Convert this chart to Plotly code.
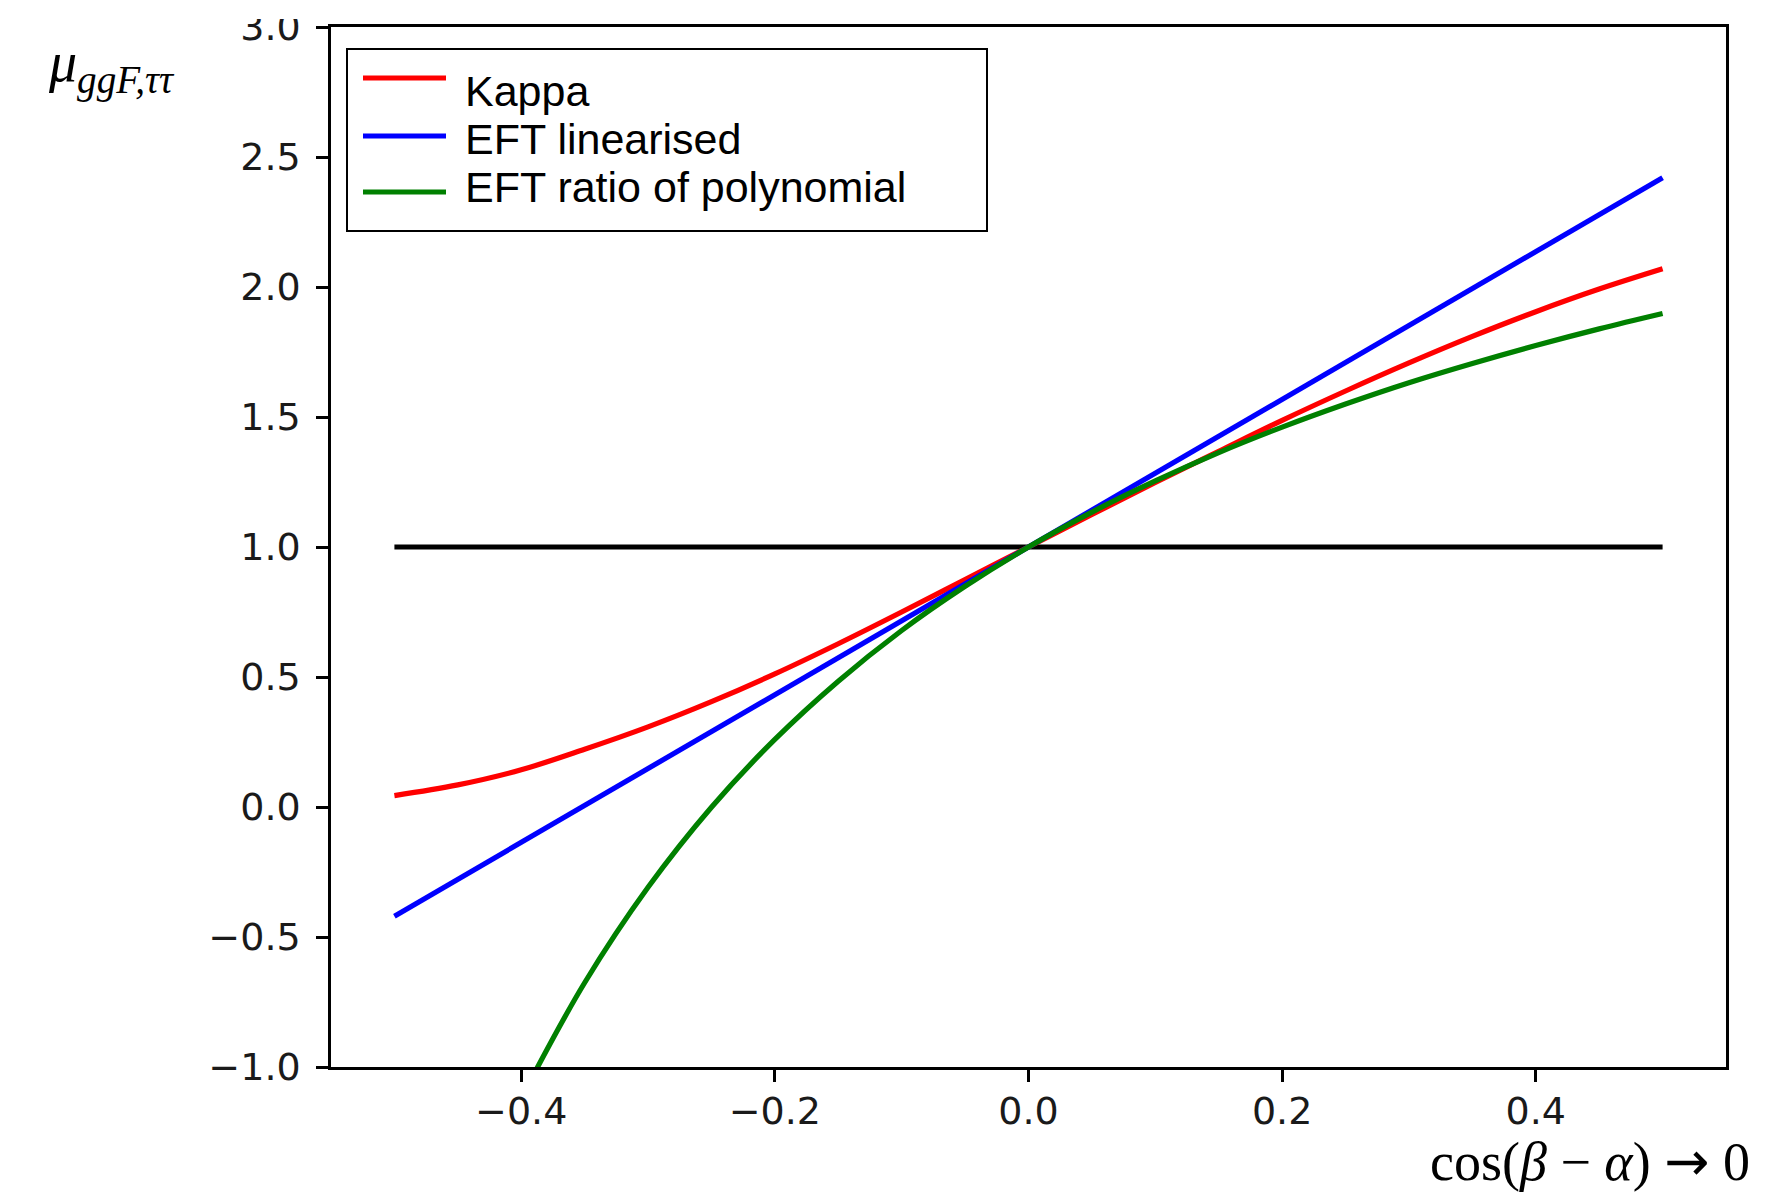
import plotly.graph_objects as go

# cos(beta - alpha) sampling points and signal strengths for each model
x_grid = [-0.50, -0.45, -0.40, -0.35, -0.30, -0.25, -0.20, -0.15, -0.10, -0.05,
          0.00, 0.05, 0.10, 0.15, 0.20, 0.25, 0.30, 0.35, 0.40, 0.45, 0.50]

mu_kappa = [0.044, 0.085, 0.143, 0.222, 0.308, 0.405, 0.512, 0.628, 0.750, 0.875,
            1.000, 1.125, 1.248, 1.368, 1.487, 1.600, 1.708, 1.810, 1.905, 1.992, 2.070]

x_lin = [-0.50, 0.00, 0.50]
mu_eft_lin = [-0.42, 1.00, 2.42]

x_ratio = [-0.40, -0.39, -0.35, -0.30, -0.25, -0.20, -0.15, -0.10, -0.05,
           0.00, 0.05, 0.10, 0.15, 0.20, 0.25, 0.30, 0.35, 0.40, 0.45, 0.50]
mu_eft_ratio = [-1.123, -1.027, -0.676, -0.309, -0.001, 0.260, 0.484, 0.679, 0.849,
                1.000, 1.134, 1.254, 1.363, 1.461, 1.550, 1.632, 1.706, 1.775, 1.839, 1.898]

x_sm = [-0.50, 0.50]
mu_sm = [1.0, 1.0]

series_names = ["Kappa", "EFT linearised", "EFT ratio of polynomial"]
series_colors = ["#ff0000", "#0000ff", "#008000"]

x_ticks = [-0.4, -0.2, 0.0, 0.2, 0.4]
x_ticktext = ["\u22120.4", "\u22120.2", "0.0", "0.2", "0.4"]
y_ticks = [-1.0, -0.5, 0.0, 0.5, 1.0, 1.5, 2.0, 2.5, 3.0]
y_ticktext = ["\u22121.0", "\u22120.5", "0.0", "0.5", "1.0", "1.5", "2.0", "2.5", "3.0"]

# canvas and plot-area geometry (pixels)
W, H = 1788, 1193
L, R, T, B = 331, 62, 27, 126
PW, PH = W - L - R, H - T - B


def px(xp):
    return (xp - L) / PW


def py(yp):
    return 1 - (yp - T) / PH


LW = 5.2
fig = go.Figure()
fig.add_trace(go.Scatter(x=x_sm, y=mu_sm, mode="lines",
                         line=dict(color="black", width=LW), showlegend=False))
fig.add_trace(go.Scatter(x=x_grid, y=mu_kappa, mode="lines", name=series_names[0],
                         line=dict(color=series_colors[0], width=LW, shape="spline"),
                         showlegend=False))
fig.add_trace(go.Scatter(x=x_lin, y=mu_eft_lin, mode="lines", name=series_names[1],
                         line=dict(color=series_colors[1], width=LW), showlegend=False))
fig.add_trace(go.Scatter(x=x_ratio, y=mu_eft_ratio, mode="lines", name=series_names[2],
                         line=dict(color=series_colors[2], width=LW, shape="spline"),
                         showlegend=False))

axis_common = dict(showline=True, linecolor="black", linewidth=2.5, mirror=True,
                   ticks="outside", ticklen=12, tickwidth=2.5, tickcolor="black",
                   showgrid=False, zeroline=False, automargin=False,
                   tickfont=dict(family="DejaVu Sans", size=38, color="#1a1a1a"))

fig.update_xaxes(range=[-0.55, 0.55], tickvals=x_ticks, ticktext=x_ticktext,
                 ticklabelstandoff=-3, **axis_common)
fig.update_yaxes(range=[-1.0, 3.0], tickvals=y_ticks, ticktext=y_ticktext,
                 ticklabelstandoff=8, **axis_common)

# top strip trims the uppermost tick label
shapes = [dict(type="rect", xref="paper", yref="paper",
               x0=px(0), x1=px(W), y0=py(19), y1=py(0),
               line=dict(width=0), fillcolor="white", layer="above")]

# legend frame, sample lines and labels
shapes.append(dict(type="rect", xref="paper", yref="paper",
                   x0=px(347), x1=px(987), y0=py(231), y1=py(49),
                   line=dict(color="black", width=2), fillcolor="white", layer="above"))
legend_line_y = [78, 136, 192]
legend_text_y = [91, 139, 187]
annotations = []
for name, color, ly, ty in zip(series_names, series_colors, legend_line_y, legend_text_y):
    shapes.append(dict(type="line", xref="paper", yref="paper",
                       x0=px(363), x1=px(446), y0=py(ly), y1=py(ly),
                       line=dict(color=color, width=LW), layer="above"))
    annotations.append(dict(text=name, xref="paper", yref="paper",
                            x=px(463), y=py(ty), xanchor="left", yanchor="middle",
                            showarrow=False,
                            font=dict(family="Liberation Sans", size=43, color="black")))

# axis titles
annotations.append(dict(
    text="cos(<i>\u03b2</i> \u2212 <i>\u03b1</i>) "
         "<span style=\"font-family:'DejaVu Sans'\">\u2192</span> 0",
    xref="paper", yref="paper", x=px(1752), y=py(1161),
    xanchor="right", yanchor="middle", showarrow=False,
    font=dict(family="Liberation Serif", size=54, color="black")))
annotations.append(dict(text="<i>\u03bc</i><sub><i>ggF,\u03c4\u03c4</i></sub>",
                        xref="paper", yref="paper", x=px(46), y=py(67),
                        xanchor="left", yanchor="middle", showarrow=False,
                        font=dict(family="Liberation Serif", size=56, color="black")))

fig.update_layout(width=W, height=H, margin=dict(l=L, r=R, t=T, b=B),
                  plot_bgcolor="white", paper_bgcolor="white",
                  shapes=shapes, annotations=annotations, showlegend=False)

fig.write_html("out.html")
